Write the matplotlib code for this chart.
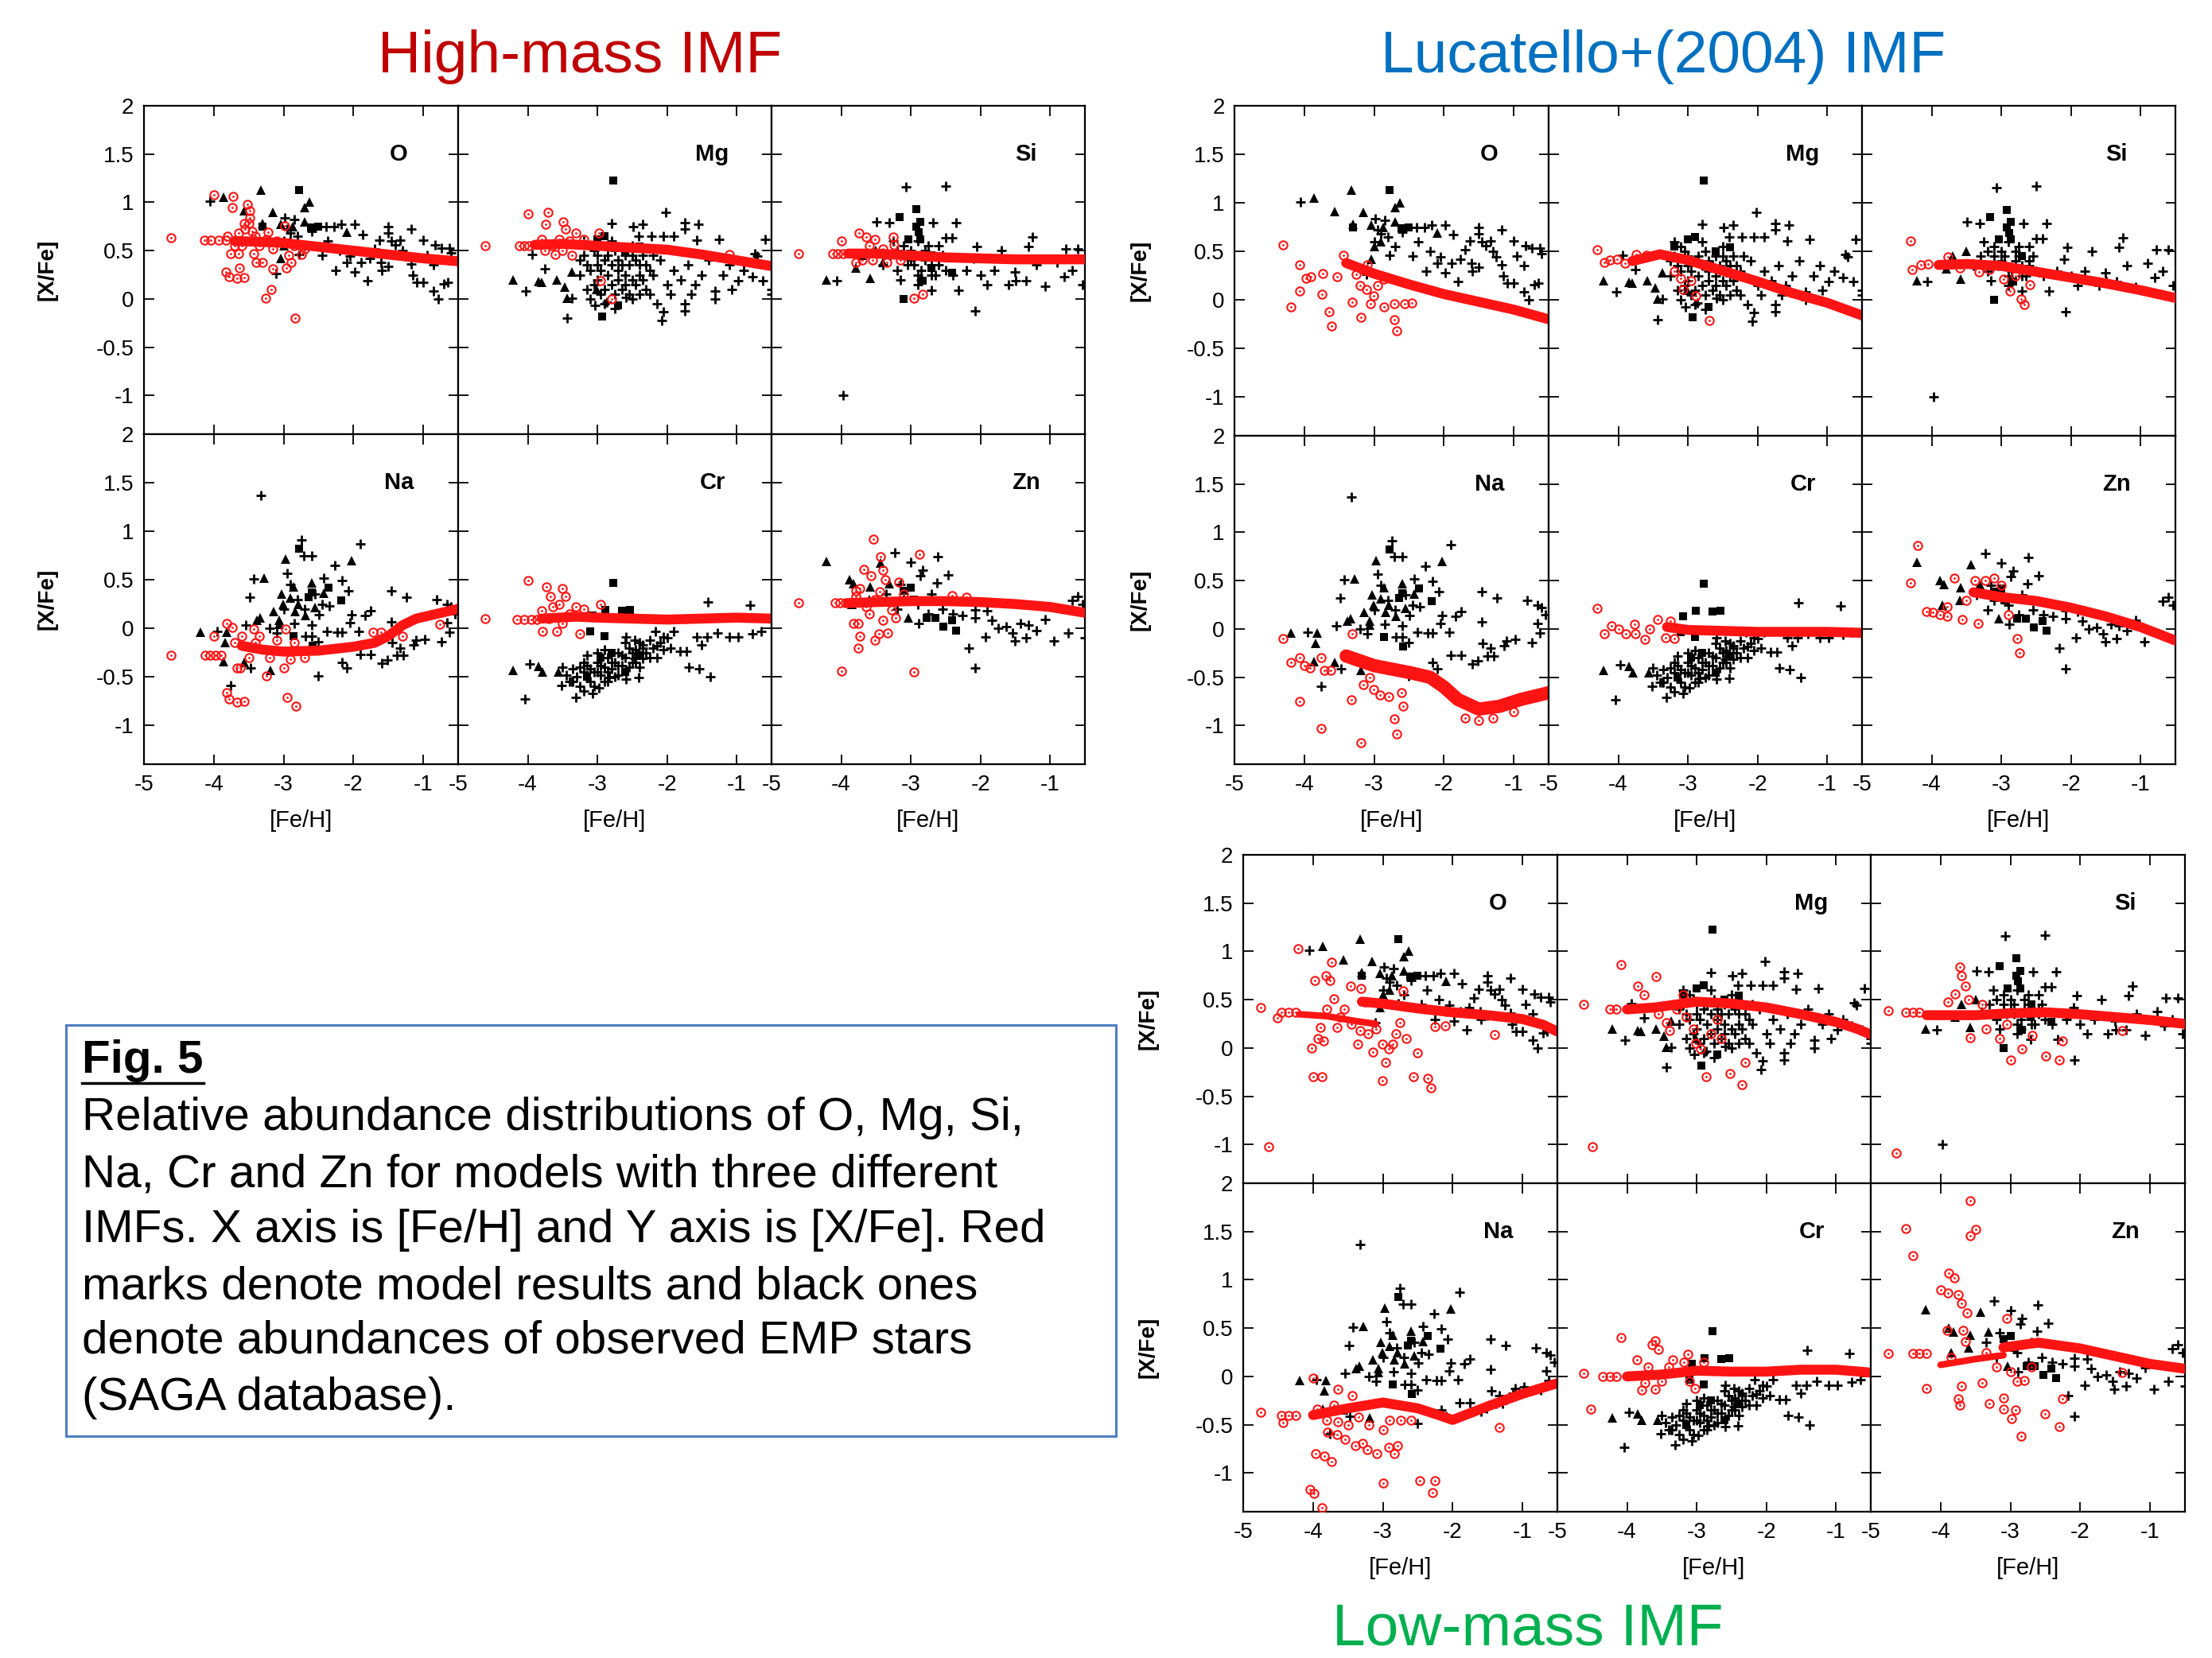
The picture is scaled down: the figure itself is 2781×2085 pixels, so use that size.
import matplotlib
matplotlib.use("Agg")
import matplotlib.pyplot as plt
from matplotlib.lines import Line2D
from matplotlib.patches import Rectangle

W, H = 2781, 2085
plt.rcParams['font.family'] = ['Liberation Sans', 'DejaVu Sans']
plt.rcParams['axes.unicode_minus'] = False

ELEMENTS = ["O", "Mg", "Si", "Na", "Cr", "Zn"]
FEH_TICKS = [-5, -4, -3, -2, -1]
FEH_LABELS = ["-5", "-4", "-3", "-2", "-1"]
XFE_TICKS = [2, 1.5, 1, 0.5, 0, -0.5, -1]
XFE_LABELS = ["2", "1.5", "1", "0.5", "0", "-0.5", "-1"]

# ---------------- observed EMP stars (SAGA), same in every group ----------------
O_PLUS = [(-4.05, 1.01), (-2.98, 0.84), (-2.85, 0.82), (-2.39, 0.75), (-2.28, 0.75), (-2.17, 0.77),
          (-1.98, 0.77), (-1.87, 0.67), (-1.50, 0.75), (-1.50, 0.68), (-1.17, 0.72), (-1.63, 0.61),
          (-1.46, 0.60), (-1.33, 0.61), (-1.0, 0.61), (-0.83, 0.56), (-0.74, 0.53), (-0.63, 0.53),
          (-2.26, 0.30), (-1.98, 0.28), (-1.80, 0.19), (-2.09, 0.38), (-1.89, 0.38), (-1.76, 0.42),
          (-1.61, 0.38), (-1.59, 0.30), (-1.50, 0.34), (-1.17, 0.36), (-1.15, 0.25), (-1.09, 0.17),
          (-1.0, 0.17), (-0.85, 0.08), (-0.78, 0.0), (-0.70, 0.16), (-0.65, 0.17), (-0.85, 0.35),
          (-3.11, 0.26), (-2.78, 0.46), (-2.37, 0.60), (-2.60, 0.70), (-2.90, 0.68), (-2.20, 0.50),
          (-1.70, 0.52), (-1.30, 0.50), (-0.95, 0.45), (-0.60, 0.48), (-2.45, 0.45), (-2.70, 0.55),
          (-3.00, 0.60), (-1.40, 0.56), (-2.05, 0.44), (-1.25, 0.44), (-2.95, 0.72), (-2.80, 0.65)]
O_TRI = [(-3.86, 1.05), (-3.33, 1.13), (-2.63, 1.0), (-2.70, 0.95), (-3.57, 0.91), (-3.15, 0.90),
         (-3.30, 0.78), (-3.04, 0.77), (-2.87, 0.75), (-2.70, 0.80), (-2.09, 0.69), (-3.04, 0.42),
         (-2.90, 0.60), (-3.00, 0.55)]
O_SQ = [(-2.78, 1.13), (-2.61, 0.74), (-2.50, 0.75), (-3.30, 0.75)]

MG_PLUS = [(-2.02, 0.90), (-1.75, 0.79), (-1.55, 0.77), (-1.75, 0.72), (-2.35, 0.77), (-2.49, 0.75),
           (-2.80, 0.78), (-2.41, 0.65), (-2.23, 0.65), (-2.05, 0.65), (-1.90, 0.65), (-1.25, 0.62),
           (-1.57, 0.61), (-0.59, 0.62), (-0.74, 0.47), (-0.70, 0.44), (-0.62, 0.19), (-0.50, 0.10),
           (-0.50, 0.05), (-0.98, 0.19), (-0.77, 0.23), (-1.31, 0.08), (-1.31, 0.0), (-1.07, 0.10),
           (-1.75, -0.05), (-1.75, -0.12), (-2.05, -0.13), (-2.08, -0.22), (-2.50, 0.0), (-2.59, 0.02),
           (-3.04, -0.07), (-2.86, -0.03), (-3.43, -0.20), (-3.37, 0.01), (-4.03, 0.08), (-3.94, 0.46),
           (-3.76, 0.31), (-3.2, 0.45), (-3.1, 0.30), (-3.0, 0.20), (-2.9, 0.40), (-2.8, 0.15),
           (-2.7, 0.30), (-2.6, 0.45), (-2.5, 0.20), (-2.4, 0.35), (-2.3, 0.10), (-2.2, 0.25),
           (-2.1, 0.40), (-2.0, 0.15), (-1.9, 0.30), (-1.8, 0.20), (-1.7, 0.35), (-1.6, 0.15),
           (-1.5, 0.25), (-1.4, 0.40), (-1.2, 0.25), (-1.1, 0.35), (-0.9, 0.30), (-3.15, 0.10),
           (-3.05, 0.50), (-2.95, 0.05), (-2.85, 0.25), (-2.75, 0.50), (-2.65, 0.10), (-2.55, 0.35),
           (-2.45, 0.15), (-2.35, 0.45), (-2.25, 0.30), (-3.25, 0.25), (-3.0, 0.35), (-2.7, 0.20),
           (-2.9, 0.10), (-2.6, 0.25), (-2.4, 0.05), (-2.2, 0.45), (-3.1, 0.55), (-2.8, 0.60),
           (-2.5, 0.55), (-1.95, 0.05), (-1.65, 0.05), (-2.15, -0.05), (-2.75, -0.10), (-3.2, 0.60),
           (-3.25, 0.40), (-3.15, 0.35), (-3.05, 0.15), (-2.95, 0.30), (-2.85, 0.45), (-2.75, 0.05),
           (-2.65, 0.35), (-2.55, 0.05), (-2.45, 0.40), (-2.35, 0.20), (-2.25, 0.05), (-3.1, 0.0),
           (-2.9, -0.05), (-2.7, 0.40), (-2.5, 0.45), (-2.3, 0.35), (-3.0, 0.45), (-2.8, 0.35),
           (-2.6, 0.15), (-2.4, 0.25)]
MG_TRI = [(-4.21, 0.20), (-3.85, 0.18), (-3.80, 0.17), (-3.58, 0.20), (-3.47, 0.12), (-3.43, 0.01),
          (-3.37, 0.28), (-3.01, 0.10)]
MG_SQ = [(-2.77, 1.23), (-2.93, -0.18), (-2.71, -0.07), (-3.2, 0.55), (-3.0, 0.62), (-2.9, 0.65),
         (-2.4, 0.54), (-2.6, 0.50)]

SI_PLUS = [(-3.07, 1.16), (-2.50, 1.17), (-3.49, 0.80), (-3.31, 0.79), (-2.68, 0.79), (-2.35, 0.79),
           (-2.50, 0.63), (-2.41, 0.63), (-1.25, 0.64), (-1.31, 0.54), (-2.05, 0.54), (-1.70, 0.50),
           (-4.06, 0.19), (-3.97, -1.0), (-2.08, -0.12), (-2.32, 0.09), (-2.71, 0.09), (-1.90, 0.15),
           (-1.60, 0.15), (-1.49, 0.19), (-1.34, 0.19), (-1.07, 0.13), (-0.80, 0.23), (-0.68, 0.30),
           (-0.53, 0.15), (-0.77, 0.52), (-0.60, 0.52), (-2.20, 0.30), (-2.00, 0.25), (-1.80, 0.30),
           (-1.50, 0.28), (-1.20, 0.35), (-0.90, 0.38), (-2.60, 0.40), (-2.40, 0.25), (-2.10, 0.42),
           (-3.3, 0.45), (-3.2, 0.30), (-3.1, 0.55), (-3.0, 0.40), (-2.9, 0.25), (-2.8, 0.50),
           (-2.7, 0.35), (-2.6, 0.55), (-2.5, 0.30), (-3.25, 0.60), (-3.05, 0.35), (-2.95, 0.45),
           (-2.85, 0.30), (-2.75, 0.55), (-2.65, 0.25), (-2.55, 0.45), (-3.15, 0.20), (-2.9, 0.15),
           (-3.4, 0.35), (-3.2, 0.50), (-3.0, 0.50), (-2.9, 0.60), (-2.8, 0.40), (-2.7, 0.25),
           (-2.6, 0.35), (-3.1, 0.45), (-2.95, 0.35), (-2.75, 0.45), (-2.85, 0.20)]
SI_TRI = [(-4.21, 0.20), (-3.58, 0.21), (-3.79, 0.32), (-3.40, 0.38), (-3.50, 0.50), (-3.70, 0.45)]
SI_SQ = [(-2.92, 0.93), (-3.16, 0.85), (-2.86, 0.80), (-2.92, 0.75), (-2.89, 0.69), (-3.04, 0.62),
         (-2.86, 0.62), (-2.71, 0.32), (-2.41, 0.27), (-2.83, 0.19), (-3.10, 0.0), (-2.70, 0.45)]

NA_PLUS = [(-3.32, 1.37), (-2.75, 0.91), (-1.90, 0.87), (-2.71, 0.75), (-2.60, 0.75), (-2.95, 0.57),
           (-2.27, 0.65), (-3.43, 0.51), (-3.48, 0.32), (-2.42, 0.52), (-2.16, 0.49), (-2.07, 0.39),
           (-2.34, 0.23), (-2.49, 0.14), (-2.03, 0.14), (-1.83, 0.13), (-1.75, 0.18), (-2.05, 0.06),
           (-2.60, 0.03), (-2.38, -0.03), (-2.23, -0.04), (-2.16, -0.04), (-1.92, -0.03), (-2.69, -0.08),
           (-2.60, -0.08), (-2.51, -0.14), (-2.16, -0.35), (-2.10, -0.41), (-2.51, -0.49), (-3.47, -0.41),
           (-3.76, -0.59), (-3.95, -0.03), (-3.54, 0.03), (-1.46, 0.39), (-1.24, 0.32), (-0.81, 0.30),
           (-0.66, 0.25), (-1.46, 0.07), (-1.90, -0.27), (-1.75, -0.27), (-1.59, -0.36), (-1.51, -0.33),
           (-1.38, -0.28), (-1.29, -0.28), (-1.33, -0.20), (-1.14, -0.17), (-0.98, -0.11), (-0.74, -0.14),
           (-0.63, -0.04), (-0.66, 0.06), (-1.44, -0.15), (-2.90, 0.45), (-2.80, 0.30), (-2.55, 0.35),
           (-3.00, 0.20), (-2.85, 0.05), (-3.20, 0.00), (-3.10, -0.05), (-2.45, 0.25), (-2.70, 0.20),
           (-0.55, 0.15), (-0.60, 0.22), (-1.10, -0.12)]
NA_TRI = [(-2.97, 0.71), (-2.03, 0.70), (-3.28, 0.52), (-2.60, 0.47), (-2.86, 0.43), (-3.03, 0.35),
          (-2.90, 0.31), (-3.01, 0.25), (-2.79, 0.25), (-2.42, 0.36), (-2.55, 0.21), (-2.83, 0.17),
          (-3.14, 0.17), (-3.34, 0.11), (-3.38, 0.08), (-3.06, 0.08), (-2.69, 0.13), (-3.06, 0.04),
          (-4.19, -0.04), (-3.82, -0.04), (-3.84, -0.15), (-3.86, -0.34), (-3.56, -0.35), (-3.19, -0.43)]
NA_SQ = [(-2.78, 0.82), (-2.36, 0.42), (-2.60, 0.37), (-2.18, 0.29), (-2.64, 0.32), (-2.86, -0.08),
         (-2.58, -0.18)]

CR_PLUS = [(-1.41, 0.27), (-0.81, 0.24), (-3.97, -0.37), (-4.04, -0.73), (-3.31, -0.71), (-3.07, -0.67),
           (-2.98, -0.61), (-3.52, -0.59), (-3.37, -0.55), (-2.83, -0.51), (-2.59, -0.52), (-2.41, -0.51),
           (-1.69, -0.40), (-1.54, -0.42), (-1.38, -0.50), (-1.81, -0.24), (-1.72, -0.24), (-1.51, -0.17),
           (-1.28, -0.05), (-1.10, -0.09), (-0.98, -0.09), (-0.77, -0.06), (-0.65, -0.03), (-1.57, -0.09),
           (-1.43, -0.09), (-1.90, -0.03), (-2.05, -0.09), (-2.17, -0.03), (-2.35, -0.17), (-2.47, -0.12),
           (-2.59, -0.09), (-2.47, -0.31), (-2.35, -0.31), (-3.45, -0.48), (-3.35, -0.42), (-3.30, -0.50),
           (-3.20, -0.45), (-3.15, -0.38), (-3.10, -0.55), (-3.05, -0.45), (-3.00, -0.35), (-2.95, -0.48),
           (-2.90, -0.40), (-2.85, -0.30), (-2.80, -0.42), (-2.75, -0.35), (-2.70, -0.25), (-2.65, -0.38),
           (-2.60, -0.30), (-2.55, -0.20), (-2.50, -0.35), (-2.45, -0.22), (-2.40, -0.15), (-2.30, -0.25),
           (-2.25, -0.12), (-2.20, -0.20), (-2.10, -0.15), (-2.00, -0.10), (-1.95, -0.20), (-3.25, -0.60),
           (-3.40, -0.55), (-3.15, -0.28), (-2.90, -0.22), (-2.70, -0.48), (-2.60, -0.15), (-3.50, -0.40),
           (-2.85, -0.55), (-3.00, -0.25), (-2.40, -0.40), (-3.20, -0.65), (-2.15, -0.30),
           (-3.35, -0.55), (-3.25, -0.40), (-3.10, -0.42), (-3.05, -0.60), (-2.95, -0.38), (-2.85, -0.45),
           (-2.75, -0.50), (-2.70, -0.38), (-2.65, -0.28), (-2.55, -0.40), (-2.50, -0.25), (-2.45, -0.35),
           (-2.35, -0.20), (-2.25, -0.30), (-2.15, -0.18), (-2.05, -0.22), (-3.20, -0.35), (-2.90, -0.55),
           (-3.00, -0.45), (-2.80, -0.35)]
CR_TRI = [(-4.21, -0.43), (-3.85, -0.39), (-3.79, -0.45), (-3.56, -0.45)]
CR_SQ = [(-2.77, 0.47), (-2.89, 0.19), (-3.07, 0.13), (-2.53, 0.19), (-2.65, 0.18), (-3.10, -0.03),
         (-2.90, -0.08), (-2.95, -0.30), (-2.80, -0.25), (-3.15, -0.50), (-2.60, -0.45), (-2.40, -0.28)]

ZN_PLUS = [(-3.23, 0.78), (-2.61, 0.74), (-3.0, 0.68), (-2.83, 0.60), (-2.46, 0.55), (-2.86, 0.54),
           (-2.62, 0.47), (-2.89, 0.05), (-2.17, -0.20), (-2.08, -0.41), (-1.93, -0.09), (-1.90, 0.18),
           (-1.84, 0.08), (-1.63, 0.02), (-1.54, -0.05), (-1.51, -0.13), (-1.31, 0.03), (-1.34, -0.10),
           (-0.95, -0.13), (-1.07, 0.09), (-0.74, -0.05), (-0.68, 0.29), (-0.53, 0.25), (-0.50, -0.10),
           (-2.26, 0.13), (-2.08, 0.11), (-2.08, 0.19), (-1.43, 0.05), (-2.70, 0.35), (-3.10, 0.30),
           (-3.20, 0.20), (-2.90, 0.25), (-2.55, 0.20), (-2.40, 0.15), (-3.35, 0.35), (-2.75, 0.15),
           (-3.15, 0.45), (-1.75, 0.00), (-1.20, -0.02), (-0.60, 0.33)]
ZN_TRI = [(-4.21, 0.69), (-3.43, 0.67), (-3.88, 0.50), (-3.82, 0.46), (-3.58, 0.43), (-3.31, 0.46),
          (-3.04, 0.11), (-3.85, 0.25), (-3.60, 0.30)]
ZN_SQ = [(-3.10, 0.39), (-2.77, 0.11), (-2.65, 0.11), (-2.53, 0.02), (-2.35, -0.02), (-2.41, 0.08),
         (-3.00, 0.42), (-2.95, 0.30)]

# ---------------- model results: high-mass IMF ----------------
HM_O_BAND = [(-3.7, 0.60), (-3.3, 0.59), (-3.0, 0.58), (-2.5, 0.54), (-2.0, 0.50), (-1.5, 0.46), (-1.0, 0.42), (-0.5, 0.39)]
HM_O_PTS = [(-4.61, 0.63), (-4.13, 0.61), (-4.04, 0.61), (-3.93, 0.61), (-3.83, 0.61), (-4.0, 1.08), (-3.72, 1.06),
            (-3.74, 0.95), (-3.52, 0.98), (-3.48, 0.91), (-3.48, 0.84), (-3.50, 0.78), (-3.55, 0.72), (-3.45, 0.70),
            (-3.83, 0.28), (-3.78, 0.23), (-3.67, 0.21), (-3.57, 0.22), (-3.63, 0.32), (-3.26, 0.01), (-3.18, 0.10),
            (-2.83, -0.20), (-3.16, 0.31), (-2.96, 0.32), (-2.89, 0.38), (-3.30, 0.38), (-3.39, 0.38), (-3.76, 0.47),
            (-3.65, 0.47), (-3.43, 0.47), (-2.93, 0.45), (-2.74, 0.46), (-2.98, 0.76), (-3.22, 0.69), (-3.57, 0.78),
            (-3.65, 0.68), (-3.80, 0.65), (-3.35, 0.55), (-3.25, 0.62), (-3.10, 0.60), (-3.40, 0.65), (-3.15, 0.52),
            (-2.85, 0.55), (-3.60, 0.55), (-3.70, 0.55), (-2.70, 0.52)]
HM_MG_BAND = [(-3.9, 0.56), (-3.5, 0.57), (-3.0, 0.55), (-2.5, 0.53), (-2.0, 0.51), (-1.5, 0.46), (-1.0, 0.40), (-0.5, 0.34)]
HM_MG_PTS = [(-4.61, 0.55), (-4.12, 0.55), (-4.05, 0.55), (-3.98, 0.55), (-3.99, 0.88), (-3.71, 0.90), (-3.74, 0.77),
             (-3.49, 0.80), (-3.46, 0.72), (-3.31, 0.68), (-3.80, 0.62), (-3.61, 0.46), (-3.37, 0.45), (-2.95, 0.19),
             (-2.80, 0.0), (-2.98, 0.68), (-1.10, 0.46), (-3.55, 0.62), (-3.40, 0.60), (-3.65, 0.55), (-3.20, 0.62),
             (-3.75, 0.50), (-3.50, 0.50)]
HM_SI_BAND = [(-3.9, 0.47), (-3.5, 0.47), (-3.0, 0.45), (-2.5, 0.43), (-2.0, 0.42), (-1.5, 0.41), (-1.0, 0.41), (-0.5, 0.41)]
HM_SI_PTS = [(-4.61, 0.47), (-4.12, 0.47), (-4.05, 0.47), (-3.97, 0.47), (-4.0, 0.60), (-3.74, 0.68), (-3.64, 0.64),
             (-3.52, 0.62), (-3.25, 0.64), (-3.24, 0.56), (-2.95, 0.01), (-2.83, 0.05), (-3.79, 0.38), (-3.34, 0.38),
             (-3.70, 0.40), (-3.60, 0.55), (-3.40, 0.52), (-3.55, 0.40), (-3.15, 0.40)]
HM_NA_BAND = [(-3.6, -0.18), (-3.3, -0.22), (-3.0, -0.24), (-2.5, -0.23), (-2.0, -0.19), (-1.7, -0.15), (-1.5, -0.08),
              (-1.3, 0.03), (-1.1, 0.10), (-0.8, 0.15), (-0.5, 0.20)]
HM_NA_PTS = [(-4.61, -0.28), (-4.12, -0.28), (-4.05, -0.28), (-3.97, -0.28), (-3.90, -0.28), (-3.82, 0.05), (-4.0, -0.08),
             (-3.73, 0.01), (-3.82, -0.66), (-3.78, -0.73), (-3.67, -0.76), (-3.56, -0.75), (-2.95, -0.71), (-2.82, -0.80),
             (-3.25, -0.49), (-3.0, -0.41), (-2.90, -0.32), (-3.67, -0.41), (-3.62, -0.41), (-2.97, -0.01), (-3.43, -0.01),
             (-3.35, -0.08), (-0.76, 0.04), (-1.72, -0.04), (-3.70, -0.15), (-3.60, -0.08), (-3.50, -0.30), (-3.40, -0.15),
             (-3.20, -0.30), (-3.10, -0.12), (-2.85, -0.15), (-2.70, -0.30), (-1.60, -0.04), (-1.30, -0.08)]
HM_CR_BAND = [(-3.8, 0.10), (-3.3, 0.12), (-3.0, 0.11), (-2.5, 0.10), (-2.0, 0.09), (-1.5, 0.10), (-1.0, 0.11), (-0.5, 0.10)]
HM_CR_PTS = [(-4.61, 0.10), (-4.15, 0.09), (-4.05, 0.09), (-3.95, 0.09), (-3.87, 0.09), (-3.99, 0.49), (-3.73, 0.43),
             (-3.50, 0.41), (-3.46, 0.33), (-3.55, 0.25), (-3.64, 0.22), (-3.80, 0.18), (-3.79, -0.03), (-3.58, -0.03),
             (-3.25, -0.06), (-3.31, 0.22), (-3.19, 0.20), (-2.96, 0.25), (-3.67, 0.33), (-3.40, 0.15), (-3.70, 0.10),
             (-3.50, 0.05)]
HM_ZN_BAND = [(-3.9, 0.26), (-3.5, 0.27), (-3.0, 0.28), (-2.5, 0.28), (-2.0, 0.27), (-1.5, 0.25), (-1.0, 0.22), (-0.5, 0.16)]
HM_ZN_PTS = [(-4.61, 0.26), (-4.09, 0.26), (-4.02, 0.26), (-3.94, 0.26), (-3.54, 0.92), (-3.43, 0.74), (-3.40, 0.60),
             (-3.67, 0.61), (-3.57, 0.54), (-3.37, 0.50), (-3.17, 0.48), (-2.87, 0.76), (-3.79, 0.39), (-3.73, 0.41),
             (-3.79, 0.33), (-3.82, 0.05), (-3.76, 0.05), (-3.73, -0.08), (-3.76, -0.20), (-3.52, -0.12), (-3.46, -0.06),
             (-3.33, -0.05), (-3.40, 0.08), (-3.22, 0.11), (-4.0, -0.44), (-2.95, -0.45), (-3.64, 0.22), (-3.28, 0.19),
             (-3.52, 0.30), (-2.41, 0.34), (-2.20, 0.32), (-3.60, 0.15), (-3.45, 0.38), (-3.10, 0.35)]

# ---------------- model results: Lucatello+(2004) IMF ----------------
LU_O_BAND = [(-3.4, 0.38), (-3.0, 0.27), (-2.5, 0.16), (-2.0, 0.06), (-1.5, -0.02), (-1.0, -0.10), (-0.5, -0.20)]
LU_O_PTS = [(-4.30, 0.57), (-4.07, 0.36), (-4.19, -0.07), (-4.07, 0.09), (-3.98, 0.22), (-3.91, 0.24), (-3.74, 0.27),
            (-3.53, 0.24), (-3.75, 0.06), (-3.64, -0.12), (-3.61, -0.27), (-3.44, 0.46), (-3.31, -0.02), (-3.19, -0.18),
            (-3.26, 0.26), (-3.11, 0.11), (-3.01, 0.04), (-3.05, -0.04), (-2.86, -0.07), (-2.71, -0.04), (-2.71, -0.20),
            (-2.68, -0.32), (-2.56, -0.04), (-2.46, -0.03), (-2.86, 0.21), (-3.10, 0.36), (-3.20, 0.15), (-2.95, 0.15)]
LU_MG_BAND = [(-3.8, 0.40), (-3.4, 0.47), (-3.0, 0.41), (-2.5, 0.30), (-2.0, 0.19), (-1.5, 0.07), (-1.0, -0.03), (-0.5, -0.16)]
LU_MG_PTS = [(-4.30, 0.52), (-4.20, 0.39), (-4.12, 0.41), (-4.02, 0.42), (-3.74, 0.47), (-3.90, 0.38), (-3.07, 0.11),
             (-2.89, 0.04), (-2.69, -0.21), (-3.59, 0.46), (-3.20, 0.30), (-2.95, 0.20), (-3.10, 0.22)]
LU_SI_BAND = [(-3.9, 0.36), (-3.5, 0.37), (-3.0, 0.35), (-2.5, 0.29), (-2.0, 0.23), (-1.5, 0.17), (-1.0, 0.10), (-0.5, 0.02)]
LU_SI_PTS = [(-4.30, 0.61), (-4.28, 0.31), (-4.15, 0.36), (-4.05, 0.37), (-3.77, 0.44), (-3.17, 0.31), (-2.97, 0.21),
             (-2.87, 0.09), (-2.72, 0.01), (-2.67, -0.05), (-3.32, 0.29), (-2.59, 0.16), (-2.80, 0.25), (-3.60, 0.33)]
LU_NA_BAND = [(-3.4, -0.28), (-3.0, -0.38), (-2.5, -0.45), (-2.2, -0.50), (-2.0, -0.60), (-1.8, -0.73), (-1.5, -0.83),
              (-1.2, -0.80), (-0.9, -0.73), (-0.5, -0.66)]
LU_NA_PTS = [(-4.30, -0.10), (-4.19, -0.35), (-4.07, -0.30), (-4.0, -0.38), (-3.92, -0.40), (-3.76, -0.30), (-3.71, -0.43),
             (-3.62, -0.43), (-4.07, -0.75), (-3.76, -1.03), (-3.31, -0.05), (-3.33, -0.73), (-3.19, -1.18), (-3.06, -0.50),
             (-3.01, -0.63), (-2.91, -0.68), (-2.79, -0.70), (-2.61, -0.66), (-2.71, -0.93), (-2.68, -1.09), (-2.58, -0.80),
             (-3.15, -0.58), (-1.70, -0.92), (-1.50, -0.95), (-1.30, -0.92), (-1.00, -0.86)]
LU_CR_BAND = [(-3.3, 0.02), (-3.0, -0.01), (-2.5, -0.02), (-2.0, -0.03), (-1.5, -0.03), (-1.0, -0.03), (-0.5, -0.04)]
LU_CR_PTS = [(-4.30, 0.21), (-4.20, -0.05), (-4.10, 0.03), (-4.00, 0.0), (-3.89, -0.05), (-3.77, 0.05), (-3.75, -0.05),
             (-3.62, -0.11), (-3.44, 0.10), (-3.32, -0.09), (-3.19, -0.10), (-3.25, 0.08), (-3.55, 0.0)]
LU_ZN_BAND = [(-3.4, 0.38), (-3.0, 0.33), (-2.5, 0.29), (-2.0, 0.22), (-1.5, 0.13), (-1.0, 0.02), (-0.5, -0.12)]
LU_ZN_PTS = [(-4.20, 0.86), (-4.30, 0.48), (-4.08, 0.18), (-3.98, 0.17), (-3.88, 0.15), (-3.78, 0.23), (-3.78, 0.13),
             (-3.68, 0.53), (-3.56, 0.10), (-3.33, 0.06), (-3.38, 0.50), (-3.23, 0.50), (-3.10, 0.53), (-3.0, 0.45),
             (-2.77, -0.10), (-2.74, -0.25), (-2.90, 0.15), (-3.5, 0.30)]

# ---------------- model results: low-mass IMF ----------------
LM_O_BAND = [(-3.3, 0.48), (-3.0, 0.46), (-2.5, 0.41), (-2.0, 0.37), (-1.5, 0.34), (-1.0, 0.30), (-0.7, 0.24), (-0.5, 0.17)]
LM_O_BAND_LO = [(-4.2, 0.35), (-3.8, 0.33), (-3.4, 0.28), (-3.1, 0.25)]
LM_O_PTS = [(-4.75, 0.42), (-4.63, -1.02), (-4.21, 1.03), (-4.51, 0.31), (-4.45, 0.37), (-4.35, 0.37), (-4.25, 0.37),
            (-4.02, 0.0), (-4.0, -0.30), (-3.87, -0.30), (-3.97, 0.70), (-3.90, 0.21), (-3.93, 0.10), (-3.85, 0.07),
            (-3.81, 0.75), (-3.76, 0.70), (-3.73, 0.89), (-3.70, 0.51), (-3.66, 0.21), (-3.61, 0.32), (-3.46, 0.64),
            (-3.36, 0.04), (-3.33, 0.18), (-3.31, 0.62), (-3.26, 0.48), (-3.21, 0.15), (-3.14, -0.04), (-3.01, -0.34),
            (-2.96, -0.15), (-3.01, 0.04), (-2.91, -0.01), (-2.86, 0.04), (-2.81, 0.15), (-2.76, 0.26), (-2.66, 0.10),
            (-2.56, -0.30), (-2.51, -0.05), (-2.36, -0.31), (-2.31, -0.41), (-2.26, 0.22), (-2.11, 0.23), (-1.40, 0.14),
            (-2.71, 0.59), (-3.55, 0.40), (-3.80, 0.40), (-3.45, 0.25), (-3.10, 0.20)]
LM_MG_BAND = [(-4.0, 0.40), (-3.6, 0.42), (-3.0, 0.48), (-2.5, 0.46), (-2.0, 0.42), (-1.5, 0.35), (-1.0, 0.27), (-0.7, 0.20), (-0.5, 0.14)]
LM_MG_PTS = [(-4.62, 0.45), (-4.50, -1.02), (-4.25, 0.40), (-4.15, 0.40), (-4.09, 0.86), (-3.85, 0.64), (-3.58, 0.74),
             (-3.75, 0.55), (-3.44, 0.26), (-3.39, 0.18), (-3.29, 0.40), (-3.15, 0.32), (-3.05, 0.20), (-3.01, 0.05),
             (-2.94, -0.01), (-2.86, -0.30), (-2.80, 0.15), (-2.65, 0.10), (-2.52, -0.26), (-2.35, -0.38), (-2.30, -0.15),
             (-2.70, 0.30), (-3.55, 0.35), (-3.20, 0.55)]
LM_SI_BAND = [(-4.2, 0.34), (-3.5, 0.34), (-3.0, 0.36), (-2.5, 0.37), (-2.0, 0.35), (-1.5, 0.32), (-1.0, 0.29), (-0.5, 0.25)]
LM_SI_PTS = [(-4.75, 0.39), (-4.63, -1.09), (-4.50, 0.37), (-4.40, 0.37), (-4.30, 0.37), (-3.72, 0.84), (-3.70, 0.75),
             (-3.65, 0.64), (-3.79, 0.56), (-3.60, 0.50), (-3.89, 0.48), (-3.58, 0.11), (-3.35, 0.20), (-3.15, 0.10),
             (-2.99, -0.12), (-2.84, -0.01), (-2.69, 0.13), (-2.49, -0.08), (-2.30, -0.12), (-2.25, 0.07), (-3.40, 0.45),
             (-3.05, 0.25), (-1.40, 0.18)]
LM_NA_BAND = [(-4.0, -0.40), (-3.5, -0.33), (-3.0, -0.27), (-2.5, -0.33), (-2.2, -0.40), (-2.0, -0.45), (-1.5, -0.31),
              (-1.0, -0.18), (-0.5, -0.07)]
LM_NA_PTS = [(-4.75, -0.37), (-4.43, -0.48), (-4.45, -0.40), (-4.35, -0.40), (-4.25, -0.40), (-4.0, -0.02), (-3.94, -0.34),
             (-3.96, -0.80), (-3.84, -0.82), (-3.74, -0.88), (-4.04, -1.17), (-3.99, -1.21), (-3.87, -1.36), (-3.79, -0.58),
             (-3.66, -0.60), (-3.64, -0.47), (-3.54, -0.65), (-3.39, -0.72), (-3.29, -0.69), (-3.22, -0.76), (-3.09, -0.80),
             (-2.99, -1.10), (-2.92, -0.73), (-2.84, -0.80), (-2.79, -0.72), (-3.44, -0.20), (-3.64, -0.13), (-2.47, -1.08),
             (-2.26, -1.08), (-2.29, -1.20), (-1.33, -0.53), (-2.74, -0.45), (-3.80, -0.45), (-3.50, -0.50), (-3.20, -0.50),
             (-3.00, -0.55), (-2.90, -0.45), (-3.35, -0.42), (-3.70, -0.30), (-2.60, -0.45)]
LM_CR_BAND = [(-4.0, 0.0), (-3.5, 0.02), (-3.0, 0.06), (-2.5, 0.05), (-2.0, 0.05), (-1.5, 0.07), (-1.0, 0.07), (-0.5, 0.04)]
LM_CR_PTS = [(-4.62, 0.03), (-4.52, -0.34), (-4.35, 0.0), (-4.25, 0.0), (-4.15, 0.0), (-4.09, 0.40), (-3.86, 0.17),
             (-3.64, 0.33), (-3.59, 0.37), (-3.55, 0.28), (-3.74, -0.07), (-3.59, -0.13), (-3.50, -0.05), (-3.34, 0.17),
             (-3.18, 0.15), (-3.13, 0.23), (-3.10, -0.05), (-3.02, -0.12), (-3.79, -0.14), (-3.70, 0.10), (-3.40, 0.10),
             (-2.90, 0.15)]
LM_ZN_BAND = [(-3.1, 0.30), (-2.6, 0.35), (-2.0, 0.29), (-1.5, 0.21), (-1.0, 0.13), (-0.5, 0.08)]
LM_ZN_BAND_LO = [(-4.0, 0.12), (-3.5, 0.18), (-3.1, 0.22)]
LM_ZN_PTS = [(-4.75, 0.24), (-4.40, 0.24), (-4.30, 0.24), (-4.20, 0.24), (-4.50, 1.53), (-4.40, 1.25), (-3.58, 1.82),
             (-3.58, 1.46), (-3.50, 1.52), (-3.88, 1.07), (-3.80, 1.02), (-4.0, 0.90), (-3.90, 0.86), (-3.75, 0.85),
             (-3.70, 0.76), (-3.62, 0.66), (-3.68, 0.48), (-3.91, 0.48), (-4.20, -0.12), (-3.75, -0.23), (-3.72, -0.30),
             (-3.70, -0.10), (-3.40, -0.07), (-3.30, -0.28), (-3.10, -0.34), (-3.10, -0.22), (-2.98, -0.44), (-2.93, -0.35),
             (-2.85, -0.62), (-3.05, 0.60), (-2.90, -0.05), (-2.80, -0.04), (-2.50, -0.39), (-2.30, -0.52), (-2.25, -0.23),
             (-1.40, 0.04), (-3.65, 0.36), (-3.35, 0.25), (-3.20, 0.10), (-3.00, 0.05), (-2.70, 0.10), (-3.85, 0.20)]

CAPTION = ["Relative abundance distributions of O, Mg, Si,",
           "Na, Cr and Zn for models with three different",
           "IMFs. X axis is [Fe/H] and Y axis is [X/Fe]. Red",
           "marks denote model results and black ones",
           "denote abundances of observed EMP stars",
           "(SAGA database)."]

OBS = {"O": (O_PLUS, O_TRI, O_SQ), "Mg": (MG_PLUS, MG_TRI, MG_SQ), "Si": (SI_PLUS, SI_TRI, SI_SQ),
       "Na": (NA_PLUS, NA_TRI, NA_SQ), "Cr": (CR_PLUS, CR_TRI, CR_SQ), "Zn": (ZN_PLUS, ZN_TRI, ZN_SQ)}
MODELS = {
    "high": {"O": ([HM_O_BAND], HM_O_PTS), "Mg": ([HM_MG_BAND], HM_MG_PTS), "Si": ([HM_SI_BAND], HM_SI_PTS),
             "Na": ([HM_NA_BAND], HM_NA_PTS), "Cr": ([HM_CR_BAND], HM_CR_PTS), "Zn": ([HM_ZN_BAND], HM_ZN_PTS)},
    "luc": {"O": ([LU_O_BAND], LU_O_PTS), "Mg": ([LU_MG_BAND], LU_MG_PTS), "Si": ([LU_SI_BAND], LU_SI_PTS),
            "Na": ([LU_NA_BAND], LU_NA_PTS), "Cr": ([LU_CR_BAND], LU_CR_PTS), "Zn": ([LU_ZN_BAND], LU_ZN_PTS)},
    "low": {"O": ([LM_O_BAND, LM_O_BAND_LO], LM_O_PTS), "Mg": ([LM_MG_BAND], LM_MG_PTS), "Si": ([LM_SI_BAND], LM_SI_PTS),
            "Na": ([LM_NA_BAND], LM_NA_PTS), "Cr": ([LM_CR_BAND], LM_CR_PTS),
            "Zn": ([LM_ZN_BAND, LM_ZN_BAND_LO], LM_ZN_PTS)},
}

# group name, column edges (px), row edges (px), [X/Fe] label x, [Fe/H] label y
GROUPS = [("high", [181, 576, 970, 1364], [133, 546, 961], 59, 1032),
          ("luc", [1552, 1947, 2341, 2735], [133, 548, 961], 1433, 1032),
          ("low", [1563, 1958, 2352, 2747], [1075, 1488, 1901], 1444, 1972)]

RED = "#ff1414"


def split(pts):
    return [p[0] for p in pts], [p[1] for p in pts]


def draw_panel(ax, elem, group, row, col):
    plus, tri, sq = OBS[elem]
    x, y = split(plus)
    ax.plot(x, y, "+", color="k", ms=8.5, mew=2.0, ls="none", zorder=2)
    x, y = split(tri)
    ax.plot(x, y, "^", color="k", ms=8, mew=0, ls="none", zorder=2)
    x, y = split(sq)
    ax.plot(x, y, "s", color="k", ms=7.5, mew=0, ls="none", zorder=2)

    bands, pts = MODELS[group][elem]
    for i, band in enumerate(bands):
        x, y = split(band)
        lw = 9 if i == 0 else 6
        if group == "luc" and elem == "Na":
            lw = 12
        ax.plot(x, y, "-", color=RED, lw=lw, solid_capstyle="round", solid_joinstyle="round", zorder=4)
    x, y = split(pts)
    ax.plot(x, y, "o", mfc="none", mec=RED, ms=7.5, mew=1.5, ls="none", zorder=5)
    ax.plot(x, y, ".", color=RED, ms=2, ls="none", zorder=5)

    ax.set_xlim(-5, -0.5)
    ax.set_ylim(-1.4, 2)
    ax.set_xticks(FEH_TICKS)
    ax.set_yticks(XFE_TICKS)
    ax.set_xticklabels(FEH_LABELS if row == 1 else [])
    ax.set_yticklabels(XFE_LABELS if col == 0 else [])
    ax.tick_params(direction="in", top=True, right=True, length=9, width=1.3,
                   labelsize=20, pad=9)
    for s in ax.spines.values():
        s.set_linewidth(1.6)
    ax.text(-1.35, 1.5, elem, ha="center", va="center", fontsize=21, fontweight="bold")


fig = plt.figure(figsize=(W / 100, H / 100), dpi=100)

for group, xs, ys, ylab_x, xlab_y in GROUPS:
    for k, elem in enumerate(ELEMENTS):
        row, col = divmod(k, 3)
        x0, x1 = xs[col], xs[col + 1]
        y0, y1 = ys[row], ys[row + 1]
        ax = fig.add_axes([x0 / W, 1 - y1 / H, (x1 - x0) / W, (y1 - y0) / H])
        draw_panel(ax, elem, group, row, col)
    for row in range(2):
        yc = (ys[row] + ys[row + 1]) / 2
        fig.text(ylab_x / W, 1 - yc / H, "[X/Fe]", rotation=90, ha="center", va="center",
                 fontsize=20, fontweight="bold")
    for col in range(3):
        xc = (xs[col] + xs[col + 1]) / 2
        fig.text(xc / W, 1 - xlab_y / H, "[Fe/H]", ha="center", va="center", fontsize=21)

fig.text(729 / W, 1 - 71 / H, "High-mass IMF", color="#C00000", fontsize=54, ha="center", va="center")
fig.text(2091 / W, 1 - 71 / H, "Lucatello+(2004) IMF", color="#0070C0", fontsize=54, ha="center", va="center")
fig.text(1921 / W, 1 - 2049 / H, "Low-mass IMF", color="#00B050", fontsize=54, ha="center", va="center")

# caption box
fig.patches.append(Rectangle((83 / W, 1 - 1806 / H), (1403 - 83) / W, (1806 - 1289) / H,
                             transform=fig.transFigure, fill=False, ec="#4F7FC0", lw=2.2))
title = fig.text(103 / W, 1 - 1334 / H, "Fig. 5", fontsize=42, fontweight="bold", ha="left", va="center")
line_y = [1406, 1477, 1547, 1618, 1687, 1758]
for ly, line in zip(line_y, CAPTION):
    fig.text(103 / W, 1 - ly / H, line, fontsize=42, ha="left", va="center")

renderer = fig.canvas.get_renderer()
bb = title.get_window_extent(renderer)
uy = (bb.y0 - 1) / H
fig.add_artist(Line2D([bb.x0 / W, bb.x1 / W], [uy, uy], transform=fig.transFigure, color="k", lw=2.5))

fig.savefig("out.png", dpi=100)
